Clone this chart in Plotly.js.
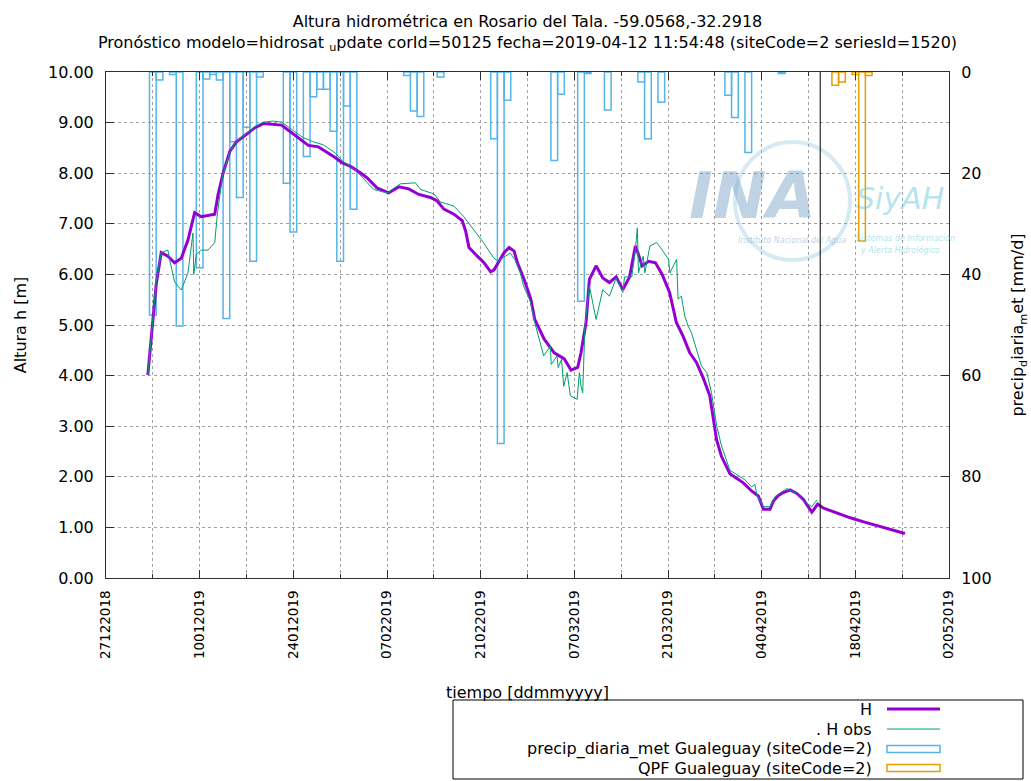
<!DOCTYPE html>
<html>
<head>
<meta charset="utf-8">
<script src="https://cdn.plot.ly/plotly-3.0.1.min.js"></script>
<style>html,body{margin:0;padding:0;background:#fff;}#chart{width:1031px;height:781px;}</style>
</head>
<body>
<div id="chart"></div>
<script>
// ---------------- DATA ----------------
const hDates = ["2019-01-02 06:00","2019-01-03 00:00","2019-01-03 12:00","2019-01-04 06:00","2019-01-05 06:00","2019-01-06 06:00","2019-01-07 06:00","2019-01-08 06:00","2019-01-09 06:00","2019-01-10 06:00","2019-01-11 06:00","2019-01-12 06:00","2019-01-12 18:00","2019-01-13 12:00","2019-01-14 12:00","2019-01-15 12:00","2019-01-17 00:00","2019-01-18 06:00","2019-01-19 12:00","2019-01-20 18:00","2019-01-22 06:00","2019-01-23 18:00","2019-01-24 18:00","2019-01-26 06:00","2019-01-27 18:00","2019-01-29 00:00","2019-01-30 06:00","2019-01-31 06:00","2019-02-01 12:00","2019-02-03 00:00","2019-02-04 00:00","2019-02-05 12:00","2019-02-07 06:00","2019-02-08 18:00","2019-02-10 06:00","2019-02-11 18:00","2019-02-13 12:00","2019-02-14 12:00","2019-02-15 12:00","2019-02-17 00:00","2019-02-18 06:00","2019-02-18 18:00","2019-02-19 06:00","2019-02-20 12:00","2019-02-21 12:00","2019-02-22 12:00","2019-02-23 00:00","2019-02-23 18:00","2019-02-24 12:00","2019-02-25 06:00","2019-02-26 00:00","2019-02-26 12:00","2019-02-27 12:00","2019-02-28 12:00","2019-03-01 02:00","2019-03-02 12:00","2019-03-04 00:00","2019-03-05 12:00","2019-03-06 12:00","2019-03-07 12:00","2019-03-08 00:00","2019-03-08 18:00","2019-03-09 06:00","2019-03-10 06:00","2019-03-11 06:00","2019-03-12 06:00","2019-03-13 06:00","2019-03-14 06:00","2019-03-15 06:00","2019-03-16 03:00","2019-03-16 12:00","2019-03-17 03:00","2019-03-18 03:00","2019-03-19 03:00","2019-03-20 03:00","2019-03-21 06:00","2019-03-22 06:00","2019-03-23 06:00","2019-03-24 06:00","2019-03-25 06:00","2019-03-26 06:00","2019-03-27 06:00","2019-03-28 06:00","2019-03-29 00:00","2019-03-30 06:00","2019-03-31 06:00","2019-04-01 06:00","2019-04-02 12:00","2019-04-03 12:00","2019-04-04 06:00","2019-04-05 06:00","2019-04-05 18:00","2019-04-06 12:00","2019-04-07 06:00","2019-04-08 06:00","2019-04-09 06:00","2019-04-10 06:00","2019-04-11 12:00","2019-04-12 09:00","2019-04-13 06:00","2019-04-15 06:00","2019-04-17 06:00","2019-04-19 06:00","2019-04-21 06:00","2019-04-22 06:00","2019-04-24 06:00","2019-04-25 10:00"];
const hValues = [4.01,5.15,5.80,6.43,6.36,6.23,6.32,6.68,7.22,7.14,7.17,7.19,7.58,8.00,8.43,8.62,8.77,8.90,8.98,8.97,8.95,8.80,8.70,8.55,8.52,8.42,8.31,8.21,8.14,8.01,7.91,7.71,7.61,7.73,7.69,7.58,7.52,7.45,7.29,7.19,7.06,6.86,6.53,6.36,6.23,6.05,6.09,6.26,6.43,6.53,6.46,6.23,5.90,5.51,5.11,4.72,4.45,4.33,4.11,4.16,4.45,5.05,5.90,6.17,5.93,5.84,5.95,5.70,5.95,6.56,6.43,6.17,6.26,6.23,6.00,5.64,5.05,4.78,4.45,4.26,3.96,3.60,2.74,2.40,2.06,1.97,1.88,1.72,1.62,1.36,1.36,1.52,1.63,1.69,1.74,1.67,1.55,1.30,1.46,1.38,1.28,1.19,1.11,1.04,1.00,0.92,0.88];

const obsDates = ["2019-01-02 06:00","2019-01-03 00:00","2019-01-03 12:00","2019-01-04 06:00","2019-01-05 06:00","2019-01-05 12:00","2019-01-06 06:00","2019-01-07 06:00","2019-01-08 06:00","2019-01-09 00:00","2019-01-09 03:00","2019-01-09 12:00","2019-01-10 06:00","2019-01-11 06:00","2019-01-12 06:00","2019-01-12 16:00","2019-01-13 10:00","2019-01-14 12:00","2019-01-15 12:00","2019-01-17 00:00","2019-01-18 06:00","2019-01-19 12:00","2019-01-21 00:00","2019-01-22 06:00","2019-01-23 18:00","2019-01-25 12:00","2019-01-27 00:00","2019-01-28 12:00","2019-01-30 06:00","2019-01-31 12:00","2019-02-01 12:00","2019-02-02 12:00","2019-02-05 00:00","2019-02-07 00:00","2019-02-09 00:00","2019-02-11 06:00","2019-02-12 00:00","2019-02-14 00:00","2019-02-15 00:00","2019-02-17 00:00","2019-02-18 10:00","2019-02-19 22:00","2019-02-21 10:00","2019-02-22 22:00","2019-02-23 14:00","2019-02-24 08:00","2019-02-25 10:00","2019-02-26 02:00","2019-02-26 22:00","2019-02-27 10:00","2019-02-28 10:00","2019-03-01 02:00","2019-03-02 10:00","2019-03-03 10:00","2019-03-03 13:00","2019-03-04 10:00","2019-03-04 14:00","2019-03-05 02:00","2019-03-05 10:00","2019-03-05 22:00","2019-03-06 10:00","2019-03-07 10:00","2019-03-07 18:00","2019-03-08 00:00","2019-03-08 06:00","2019-03-08 14:00","2019-03-09 06:00","2019-03-10 06:00","2019-03-11 06:00","2019-03-12 06:00","2019-03-13 06:00","2019-03-14 06:00","2019-03-14 12:00","2019-03-15 14:00","2019-03-16 02:00","2019-03-16 10:00","2019-03-16 14:00","2019-03-17 07:00","2019-03-17 13:00","2019-03-18 07:00","2019-03-19 07:00","2019-03-20 01:00","2019-03-21 02:00","2019-03-21 07:00","2019-03-21 19:00","2019-03-22 07:00","2019-03-22 12:00","2019-03-23 00:00","2019-03-23 12:00","2019-03-24 00:00","2019-03-24 12:00","2019-03-25 07:00","2019-03-26 00:00","2019-03-26 19:00","2019-03-27 12:00","2019-03-28 07:00","2019-03-29 00:00","2019-03-30 06:00","2019-04-01 12:00","2019-04-02 12:00","2019-04-03 00:00","2019-04-03 06:00","2019-04-04 06:00","2019-04-05 06:00","2019-04-06 00:00","2019-04-07 18:00","2019-04-08 12:00","2019-04-09 06:00","2019-04-10 06:00","2019-04-11 12:00","2019-04-12 06:00"];
const obsValues = [4.01,5.15,5.85,6.43,6.48,6.30,5.85,5.69,6.03,6.82,6.00,6.40,6.48,6.48,6.63,7.22,7.94,8.43,8.63,8.78,8.92,9.01,9.03,9.01,8.86,8.70,8.62,8.56,8.40,8.22,8.15,8.03,7.68,7.61,7.79,7.81,7.68,7.59,7.43,7.35,7.15,6.89,6.63,6.33,6.26,6.33,6.42,6.30,6.03,5.77,5.47,5.05,4.39,4.58,4.22,4.39,4.16,4.32,3.79,4.06,3.60,3.53,4.06,3.79,3.66,4.98,5.77,5.11,5.70,5.57,5.93,5.64,5.95,5.95,6.43,6.92,6.03,6.36,6.03,6.56,6.63,6.50,6.30,6.03,6.17,6.30,5.51,5.57,5.18,4.98,4.85,4.52,4.19,4.06,3.66,3.00,2.61,2.13,1.94,1.80,1.85,1.65,1.41,1.41,1.61,1.77,1.72,1.67,1.52,1.41,1.54];

const precipDates = ["2019-01-03","2019-01-04","2019-01-06","2019-01-07","2019-01-10","2019-01-11","2019-01-12","2019-01-13","2019-01-14","2019-01-15","2019-01-16","2019-01-17","2019-01-18","2019-01-19","2019-01-23","2019-01-24","2019-01-26","2019-01-27","2019-01-28","2019-01-29","2019-01-30","2019-01-31","2019-02-01","2019-02-02","2019-02-10","2019-02-11","2019-02-12","2019-02-15","2019-02-23","2019-02-24","2019-02-25","2019-03-04","2019-03-05","2019-03-08","2019-03-09","2019-03-12","2019-03-17","2019-03-18","2019-03-20","2019-03-30","2019-03-31","2019-04-02","2019-04-07"];
const precipValues = [48,1.6,0.5,50.2,38.7,1.4,0.5,1.6,48.7,13.8,24.8,10.9,37.4,1.0,22,31.6,16.7,4.9,3.4,3.4,11.7,37.4,6.7,27.1,0.7,7.7,8.8,1.0,13.2,73.4,5.6,17.5,4.4,45.3,0.3,7.5,2.0,13.2,6.0,4.6,9.0,15.9,0.3];

const qpfDates = ["2019-04-15","2019-04-16","2019-04-18","2019-04-19","2019-04-20"];
const qpfValues = [2.6,2.0,0.5,33.4,0.7];

const forecastDate = "2019-04-12 18:00";
const xRange = ["2018-12-27","2019-05-02"];

const titleLine1 = "Altura hidrométrica en Rosario del Tala. -59.0568,-32.2918";
const titleLine2 = "Pronóstico modelo=hidrosat <sub>u</sub>pdate corId=50125 fecha=2019-04-12 11:54:48 (siteCode=2 seriesId=1520)";
const legendNames = ["H", ". H obs", "precip_diaria_met Gualeguay (siteCode=2)", "QPF Gualeguay (siteCode=2)"];

// ---------------- STYLE ----------------
const DAY = 86400000;
const FONT = "DejaVu Sans";
const C_H = "#9400D3", C_OBS = "#009E73", C_PR = "#56B4E9", C_QPF = "#E69F00";
const PL = 106, PR = 949, PT = 72, PB = 578;
const px = v => (v - PL) / (PR - PL);
const py = v => (PB - v) / (PB - PT);

const traces = [
  {type: "bar", name: legendNames[2], x: precipDates, y: precipValues, width: DAY,
   xaxis: "x", yaxis: "y", marker: {color: "rgba(0,0,0,0)", line: {color: C_PR, width: 1.5}}},
  {type: "bar", name: legendNames[3], x: qpfDates, y: qpfValues, width: DAY,
   xaxis: "x", yaxis: "y", marker: {color: "rgba(0,0,0,0)", line: {color: C_QPF, width: 1.5}}},
  {type: "scatter", mode: "lines", name: legendNames[0], x: hDates, y: hValues,
   xaxis: "x", yaxis: "y2", line: {color: C_H, width: 3}},
  {type: "scatter", mode: "lines", name: legendNames[1], x: obsDates, y: obsValues,
   xaxis: "x", yaxis: "y2", line: {color: C_OBS, width: 1}}
];

const gridStyle = {gridcolor: "#a0a0a0", griddash: "dot", gridwidth: 1};
const lineColor = "#303030";

// custom legend (text right-aligned, sample on the right)
const rowsY = [709, 729, 749, 768];
const shapes = [
  {type: "line", xref: "x", yref: "paper", x0: forecastDate, x1: forecastDate, y0: 0, y1: 1,
   line: {color: "#000", width: 1}},
  {type: "rect", xref: "paper", yref: "paper", x0: px(453), x1: px(1023), y0: py(779), y1: py(700),
   line: {color: "#000", width: 1}, fillcolor: "rgba(0,0,0,0)"},
  {type: "line", xref: "paper", yref: "paper", x0: px(887), x1: px(940), y0: py(rowsY[0]), y1: py(rowsY[0]),
   line: {color: C_H, width: 3}},
  {type: "line", xref: "paper", yref: "paper", x0: px(887), x1: px(940), y0: py(rowsY[1]), y1: py(rowsY[1]),
   line: {color: C_OBS, width: 1}},
  {type: "rect", xref: "paper", yref: "paper", x0: px(887), x1: px(940), y0: py(rowsY[2] + 3.5), y1: py(rowsY[2] - 3.5),
   line: {color: C_PR, width: 1.5}, fillcolor: "rgba(0,0,0,0)"},
  {type: "rect", xref: "paper", yref: "paper", x0: px(887), x1: px(940), y0: py(rowsY[3] + 3.5), y1: py(rowsY[3] - 3.5),
   line: {color: C_QPF, width: 1.5}, fillcolor: "rgba(0,0,0,0)"},
  // watermark ring
  {type: "circle", xref: "paper", yref: "paper", x0: px(735), x1: px(850), y0: py(260), y1: py(142),
   line: {color: "rgba(120,185,215,0.30)", width: 4}, layer: "below"}
];

const annotations = legendNames.map((t, i) => ({
  xref: "paper", yref: "paper", x: px(874), y: py(rowsY[i]), xanchor: "right", yanchor: "middle",
  text: t, showarrow: false, font: {family: FONT, size: 16, color: "#000"}
}));
annotations.push(
  {xref: "paper", yref: "paper", x: px(752), y: py(196), text: "INA", showarrow: false,
   xanchor: "center", yanchor: "middle", font: {family: FONT, size: 64, color: "rgba(95,145,190,0.40)", style: "italic", weight: 700}},
  {xref: "paper", yref: "paper", x: px(900), y: py(198), text: "SiyAH", showarrow: false,
   xanchor: "center", yanchor: "middle", font: {family: FONT, size: 30, color: "rgba(110,200,220,0.50)", style: "italic"}},
  {xref: "paper", yref: "paper", x: px(792), y: py(241), text: "Instituto Nacional del Agua", showarrow: false,
   xanchor: "center", yanchor: "middle", font: {family: FONT, size: 8, color: "rgba(95,145,190,0.45)", style: "italic"}},
  {xref: "paper", yref: "paper", x: px(905), y: py(238), text: "Sistemas de Información", showarrow: false,
   xanchor: "center", yanchor: "middle", font: {family: FONT, size: 8, color: "rgba(110,200,220,0.55)", style: "italic"}},
  {xref: "paper", yref: "paper", x: px(900), y: py(250), text: "y Alerta Hidrológico", showarrow: false,
   xanchor: "center", yanchor: "middle", font: {family: FONT, size: 8, color: "rgba(110,200,220,0.55)", style: "italic"}}
);

const layout = {
  width: 1031, height: 781,
  margin: {l: PL, r: 1031 - PR, t: PT, b: 781 - PB, pad: 0},
  paper_bgcolor: "#fff", plot_bgcolor: "#fff",
  showlegend: false, barmode: "overlay",
  font: {family: FONT, size: 16, color: "#000"},
  title: {text: titleLine1 + "<br>" + titleLine2, x: 0.5, xref: "paper", xanchor: "center",
          y: 1 - 27 / 781, yref: "container", yanchor: "top", font: {family: FONT, size: 16, color: "#000"}},
  xaxis: Object.assign({
    type: "date", range: xRange, tick0: xRange[0], dtick: 14 * DAY, tickformat: "%d%m%Y",
    tickangle: -90, ticks: "inside", ticklen: 8, tickcolor: lineColor, ticklabelstandoff: 6,
    showline: true, linecolor: lineColor, linewidth: 1, mirror: "ticks", showgrid: true, zeroline: false,
    minor: {tick0: xRange[0], dtick: 7 * DAY, ticks: "inside", ticklen: 4, tickcolor: lineColor,
            showgrid: true, gridcolor: "#a0a0a0", griddash: "dot", gridwidth: 1},
    tickfont: {family: FONT, size: 13.5},
    title: {text: "tiempo [ddmmyyyy]", standoff: 28, font: {family: FONT, size: 16}}
  }, gridStyle),
  yaxis: {
    side: "right", range: [100, 0], dtick: 20, tick0: 0, anchor: "x",
    ticks: "inside", ticklen: 8, tickcolor: lineColor, ticklabelstandoff: 8,
    showline: true, linecolor: lineColor, linewidth: 1, showgrid: false, zeroline: false,
    tickfont: {family: FONT, size: 16},
    title: {text: "precip<sub>d</sub>iaria<sub>m</sub>et [mm/d]", standoff: 21, font: {family: FONT, size: 16}}
  },
  yaxis2: Object.assign({
    overlaying: "y", side: "left", anchor: "x", range: [0, 10], dtick: 1, tick0: 0, tickformat: ".2f",
    ticks: "inside", ticklen: 8, tickcolor: lineColor, ticklabelstandoff: 8,
    showline: true, linecolor: lineColor, linewidth: 1, showgrid: true, zeroline: false,
    tickfont: {family: FONT, size: 16},
    title: {text: "Altura h [m]", standoff: 17, font: {family: FONT, size: 16}}
  }, gridStyle),
  shapes: shapes,
  annotations: annotations
};

Plotly.newPlot("chart", traces, layout, {staticPlot: true, displayModeBar: false});
</script>
</body>
</html>
